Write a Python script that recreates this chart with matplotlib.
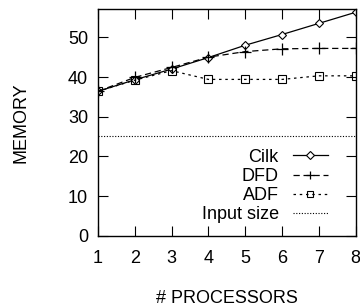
import matplotlib
matplotlib.use("Agg")
import matplotlib.pyplot as plt

# memory usage vs number of processors
procs = [1, 2, 3, 4, 5, 6, 7, 8]
cilk = [36.4, 39.3, 42.0, 44.9, 48.0, 50.7, 53.5, 56.3]
dfd = [36.4, 39.9, 42.4, 45.0, 46.4, 47.1, 47.2, 47.2]
adf = [36.4, 39.2, 41.6, 39.4, 39.4, 39.4, 40.3, 40.3]
input_size = 25.2

plt.rcParams['font.family'] = ['Liberation Sans', 'DejaVu Sans']

fig = plt.figure(figsize=(3.6, 3.06), dpi=100)
ax = fig.add_axes([0.272, 0.229, 0.716, 0.740])

ax.plot(procs, cilk, color='black', lw=0.9, marker='D', ms=4.5,
        mfc='white', mec='black', mew=0.8, label='Cilk')
ax.plot(procs, dfd, color='black', lw=0.9, ls=(0, (5, 3)), marker='+', ms=8,
        mew=0.9, label='DFD')
ax.plot(procs, adf, color='black', lw=0.9, ls=(0, (2, 3)), marker='s', ms=6,
        mfc='none', mec='black', mew=0.8, label='ADF')
ax.axhline(input_size, color='black', lw=0.8, ls=(0, (1, 1.5)), label='Input size')

ax.set_xlim(1, 8)
ax.set_ylim(0, 57)
ax.set_xticks(procs)
ax.set_yticks([0, 10, 20, 30, 40, 50])
ax.tick_params(direction='in', length=7, width=0.8, top=True, right=True,
               labelsize=13, pad=7)
ax.tick_params(axis='x', pad=10)
for s in ax.spines.values():
    s.set_linewidth(1.0)

ax.set_xlabel('# PROCESSORS', fontsize=13, labelpad=17)
ax.set_ylabel('MEMORY', fontsize=13, labelpad=28)

ax.legend(loc='lower right', frameon=False, fontsize=13, markerfirst=False,
          markerscale=0.8, handlelength=1.9, handletextpad=0.8,
          labelspacing=0.12, borderaxespad=0.3, bbox_to_anchor=(0.94, 0.0))

fig.savefig('out.png', dpi=100)
